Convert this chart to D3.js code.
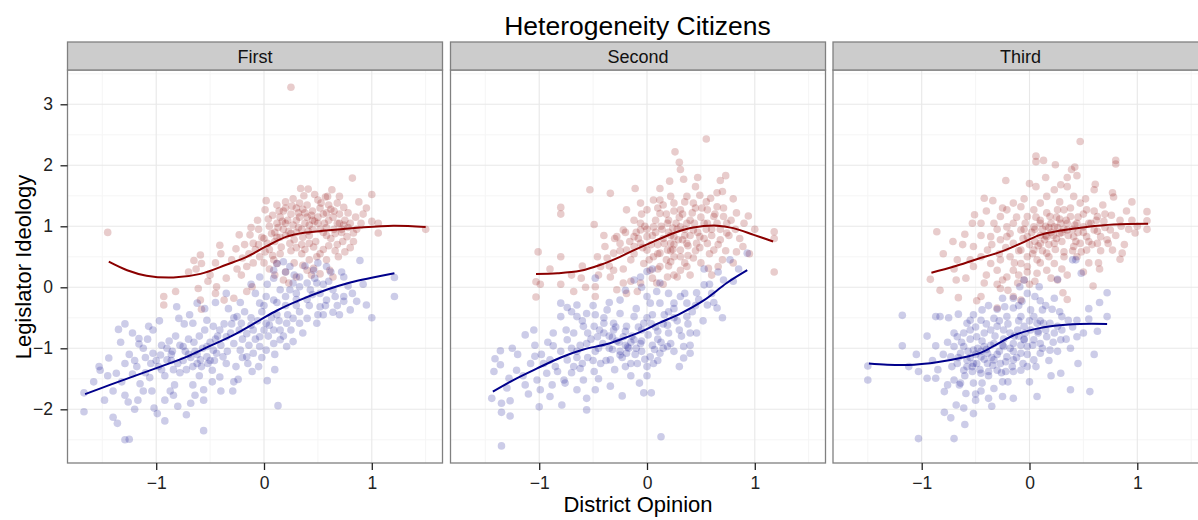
<!DOCTYPE html>
<html>
<head>
<meta charset="utf-8">
<script src="https://cdn.jsdelivr.net/npm/d3@7"></script>
<style>
  html, body { margin: 0; padding: 0; background: #fff; }
  svg { display: block; }
  text { font-family: "Liberation Sans", Arial, Helvetica, sans-serif; }
</style>
</head>
<body>
<svg id="chart" width="1198" height="520"></svg>
<script>
const chartTitle = "Heterogeneity Citizens";
const xTitle = "District Opinion";
const yTitle = "Legislator Ideology";
const panels = ["First", "Second", "Third"];
const xTicks = [-1, 0, 1];
const yTicks = [-2, -1, 0, 1, 2, 3];
const xMinor = [-1.5, -0.5, 0.5, 1.5];
const yMinor = [-2.5, -1.5, -0.5, 0.5, 1.5, 2.5, 3.5];

// ---- Panel "First" ----
const firstHigh = [[0.25,3.28],[0.82,1.79],[-1.45,0.90],[1.50,0.95],[1.00,1.52],[0.34,1.62],[0.41,1.61],[0.37,1.50],[0.63,1.60],[0.59,1.49],[0.70,1.49],[0.02,1.42],[0.12,1.35],[0.33,1.38],[0.50,1.43],[0.74,1.31],[0.01,1.27],[1.00,1.08],[1.06,1.05],[1.06,0.89],[0.83,0.89],[0.83,0.75],[0.74,1.02],[0.77,0.83],[0.75,0.58],[0.69,0.50],[-0.41,0.69],[-0.23,0.86],[-0.18,0.70],[-0.10,0.72],[-0.13,0.86],[-0.26,0.63],[-0.59,0.53],[-0.65,0.44],[-0.58,0.39],[-0.63,0.30],[-0.82,-0.07],[-0.93,-0.15],[-0.93,-0.29],[-0.61,-0.02],[-0.59,-0.21],[-0.58,-0.36],[-0.44,0.01],[-0.37,-0.21],[-0.45,-0.10],[-0.28,-0.18],[-0.21,0.20],[-0.16,0.34],[-0.10,0.40],[-0.04,0.50],[0.01,0.58],[0.09,0.45],[0.12,0.39],[0.23,0.07],[0.30,0.17],[0.40,0.28],[0.46,0.31],[0.49,0.50],[0.61,0.28],[0.64,0.17],[-0.11,0.01],[-0.16,-0.07],[0.15,1.15],[0.20,1.05],[0.25,1.20],[0.30,1.10],[0.35,0.95],[0.40,1.15],[0.45,1.25],[0.50,1.05],[0.55,1.20],[0.60,1.10],[0.65,0.95],[0.70,1.20],[0.75,1.10],[0.10,0.90],[0.05,1.00],[-0.05,0.95],[0.00,0.80],[0.10,0.75],[0.20,0.85],[0.28,0.78],[0.35,0.70],[0.42,0.85],[0.48,0.75],[0.55,0.90],[0.62,0.80],[0.68,0.70],[0.72,0.90],[0.30,1.30],[0.40,1.35],[0.52,1.30],[0.60,1.35],[0.20,1.30],[0.08,1.18],[0.18,0.95],[0.38,1.05],[0.45,0.95],[0.58,0.98],[0.78,0.98],[0.85,1.15],[0.25,0.60],[0.15,0.55],[0.05,0.62],[-0.05,0.70],[0.35,0.55],[0.55,0.62],[0.42,0.45],[0.20,0.25],[0.05,0.30],[-0.30,0.45],[-0.45,0.40],[-0.35,0.15],[-0.50,0.20],[0.30,0.90],[0.50,1.15],[0.12,1.05],[0.65,1.25],[0.88,1.40],[0.92,1.20],[0.22,1.10],[0.42,1.02],[0.32,1.22],[0.58,1.22],[0.15,0.82],[0.68,1.05],[0.18,1.25],[0.26,1.33],[0.36,1.28],[0.44,1.18],[0.53,1.38],[0.62,1.28],[0.68,1.38],[0.78,1.22],[0.80,1.05],[0.72,0.95],[0.66,0.88],[0.58,0.85],[0.52,0.95],[0.47,1.08],[0.41,0.92],[0.36,0.82],[0.32,0.98],[0.27,1.02],[0.23,0.92],[0.17,1.08],[0.13,0.98],[0.07,0.88],[0.03,0.72],[-0.02,0.82],[-0.08,0.62],[-0.14,0.55],[-0.20,0.48],[0.00,0.40],[0.08,0.52],[0.16,0.66],[0.24,0.72],[0.30,0.65],[0.38,0.62],[0.46,0.66],[0.52,0.55],[0.60,0.68],[0.66,0.60],[0.73,0.75],[0.80,0.65],[0.86,0.95],[0.90,1.05],[0.95,1.30],[0.57,1.48],[0.47,1.52],[0.27,1.45],[0.14,1.25],[0.04,1.12],[-0.06,1.10],[-0.12,0.98],[0.10,0.20],[0.18,0.12],[0.28,0.40],[0.36,0.36],[0.44,0.20],[0.52,0.22],[0.58,0.45],[-0.25,0.30],[-0.40,0.55],[-0.52,0.10],[-0.70,0.25],[0.33,1.15],[0.45,1.10],[0.56,1.05],[0.64,1.15],[0.38,1.22],[0.25,0.88],[0.12,0.82],[0.42,0.72],[0.70,1.05],[0.20,1.40]];
const firstLow = [[-1.67,-1.73],[-1.67,-2.04],[-1.53,-1.30],[-1.52,-1.36],[-1.44,-1.16],[-1.40,-1.70],[-1.40,-2.13],[-1.36,-2.23],[-1.29,-2.50],[-1.25,-2.49],[-1.35,-0.69],[-1.29,-0.60],[-1.16,-0.84],[-1.16,-0.93],[-1.07,-0.64],[-1.03,-0.70],[-1.37,-1.41],[-1.29,-1.25],[-1.29,-1.77],[-1.26,-1.88],[-1.17,-1.85],[-1.15,-1.58],[-1.06,-1.48],[-1.04,-1.70],[-1.02,-1.98],[-0.99,-2.07],[-0.92,-2.19],[-0.72,-2.09],[-0.56,-2.35],[-0.56,-1.68],[-0.56,-1.85],[-0.66,-1.60],[-0.64,-1.77],[-0.83,-1.60],[-0.84,-1.77],[-0.92,-1.85],[-0.87,-1.70],[-0.29,-1.70],[0.03,-1.53],[-0.11,-1.38],[0.13,-1.94],[-0.24,-1.51],[-0.28,-1.55],[-1.03,-1.08],[-0.96,-1.11],[-1.05,-1.25],[-0.90,-1.19],[-0.75,-0.97],[-0.73,-1.05],[-0.72,-1.35],[-0.62,-1.25],[-0.59,-1.19],[-0.58,-1.30],[-0.53,-1.14],[-0.53,-0.97],[-0.47,-1.03],[-0.44,-1.08],[-0.38,-1.14],[-0.35,-1.25],[-0.48,-1.36],[-0.41,-1.47],[-0.98,-1.30],[-1.10,-1.15],[-0.85,-1.05],[-0.80,-1.25],[-0.68,-1.15],[-0.65,-0.90],[-0.95,-0.95],[-1.12,-1.00],[-0.88,-0.88],[-0.78,-1.40],[-0.60,-1.45],[-1.20,-1.20],[-1.22,-1.42],[-0.92,-1.45],[-0.25,-0.48],[-0.21,-0.59],[-0.16,-0.76],[-0.10,-0.70],[-0.04,-0.81],[-0.04,-0.97],[0.02,-1.03],[0.09,-0.92],[0.15,-0.86],[0.21,-0.97],[0.27,-0.89],[-0.28,-0.92],[-0.22,-1.03],[-0.10,-1.08],[-0.16,-1.14],[-0.35,-0.81],[-0.41,-0.70],[-0.47,-0.64],[-0.53,-0.54],[-0.66,-0.59],[-0.69,-0.45],[-0.62,-0.26],[-0.81,-0.32],[-0.79,-0.51],[-0.30,-0.60],[-0.45,-0.85],[-0.12,-0.50],[0.05,-0.62],[-0.02,-0.40],[-0.33,-0.35],[-0.04,-0.26],[0.02,-0.15],[0.09,-0.21],[0.15,-0.04],[0.24,-0.04],[0.27,0.07],[0.33,0.01],[0.40,0.07],[0.43,-0.04],[0.49,0.07],[0.52,-0.10],[0.58,-0.21],[0.64,-0.04],[0.74,0.17],[0.72,0.25],[0.74,-0.15],[0.74,-0.23],[0.89,0.44],[0.86,-0.23],[0.95,-0.29],[1.21,0.16],[1.21,-0.15],[0.80,-0.37],[0.64,-0.41],[0.52,-0.32],[0.49,-0.59],[0.40,-0.51],[0.33,-0.59],[0.27,-0.51],[0.21,-0.59],[0.15,-0.70],[0.09,-0.70],[0.02,-0.59],[-0.04,0.17],[0.09,0.15],[0.33,0.17],[0.46,0.28],[0.58,0.34],[0.09,0.28],[0.18,0.42],[0.24,0.34],[0.12,0.39],[0.40,-0.20],[0.30,-0.30],[0.20,-0.30],[0.60,0.10],[0.68,-0.30],[0.55,-0.45],[0.12,-0.45],[-0.08,-0.10],[-0.86,-1.20],[-0.70,-1.10],[-0.50,-1.20],[-0.20,-0.85],[0.00,-0.70],[0.30,-0.20],[-1.45,-1.45],[-1.32,-1.55],[-1.25,-1.10],[-1.18,-1.30],[-1.10,-1.40],[-1.08,-0.85],[-1.00,-1.20],[-0.95,-1.35],[-0.90,-1.00],[-0.86,-1.10],[-0.82,-0.80],[-0.78,-0.95],[-0.75,-1.20],[-0.70,-0.85],[-0.66,-1.30],[-0.64,-1.05],[-0.60,-0.80],[-0.57,-1.00],[-0.55,-0.70],[-0.52,-1.25],[-0.50,-0.90],[-0.46,-1.20],[-0.43,-0.80],[-0.40,-0.95],[-0.37,-0.60],[-0.34,-1.05],[-0.31,-0.75],[-0.28,-0.50],[-0.26,-1.30],[-0.23,-0.70],[-0.20,-1.15],[-0.18,-0.40],[-0.14,-0.95],[-0.12,-0.62],[-0.08,-0.85],[-0.06,-0.55],[-0.02,-1.15],[0.00,-0.30],[0.04,-0.80],[0.07,-0.50],[0.10,-1.10],[0.12,-0.25],[0.14,-0.55],[0.18,-0.80],[0.20,-0.15],[0.22,-0.45],[0.25,-0.70],[0.28,0.20],[0.30,-0.10],[0.33,-0.40],[0.36,-0.75],[0.38,0.35],[0.42,-0.30],[0.45,-0.12],[0.47,0.15],[0.50,-0.45],[0.55,0.05],[0.57,-0.30],[0.62,0.25],[0.66,-0.15],[0.70,-0.45],[0.78,0.02],[0.82,-0.10],[0.92,0.05],[1.00,-0.50],[-1.58,-1.55],[-1.48,-1.85],[-1.20,-2.00],[-1.12,-1.70],[-0.80,-1.95],[-0.68,-1.90],[-0.48,-1.55],[-0.40,-1.70],[-0.15,-1.25],[-0.05,-1.30],[0.10,-1.35],[-1.33,-0.90],[-1.22,-0.75],[-0.97,-0.55],[-0.74,-0.60],[-0.55,-0.35],[-0.45,-0.25],[-0.35,-0.10],[-0.22,-0.25],[-0.12,0.05],[0.03,0.05],[0.20,0.25],[0.50,0.40],[-0.62,-1.10],[-0.84,-1.35]];
const firstHighFit = [[-1.44,0.42],[-1.27,0.28],[-1.09,0.19],[-0.84,0.16],[-0.59,0.22],[-0.35,0.37],[-0.16,0.50],[0.02,0.67],[0.21,0.83],[0.36,0.89],[0.58,0.93],[0.89,0.98],[1.20,1.01],[1.50,0.99]];
const firstLowFit = [[-1.66,-1.75],[-1.43,-1.60],[-1.18,-1.44],[-0.96,-1.30],[-0.72,-1.14],[-0.50,-0.96],[-0.28,-0.78],[-0.04,-0.54],[0.12,-0.38],[0.33,-0.21],[0.58,-0.04],[0.80,0.08],[1.01,0.16],[1.21,0.23]];

// ---- Panel "Second" ----
const secondHigh = [[0.55,2.43],[0.26,2.22],[0.30,2.05],[0.31,1.93],[0.21,1.74],[0.34,1.77],[0.47,1.80],[0.73,1.83],[0.68,1.75],[0.70,1.57],[0.80,1.45],[-0.53,1.60],[-0.34,1.54],[-0.11,1.62],[-0.80,1.31],[-0.80,1.20],[-0.49,1.03],[-1.01,0.58],[-0.80,0.50],[-1.03,0.09],[-0.99,0.05],[-1.03,-0.16],[-0.80,0.05],[-0.68,-0.07],[-0.57,0.00],[-0.48,0.01],[-0.48,-0.15],[-0.61,0.15],[1.18,0.91],[1.18,0.80],[1.18,0.25],[0.94,1.17],[0.83,1.22],[0.89,0.67],[0.83,0.58],[0.66,0.34],[0.57,0.31],[0.43,0.48],[0.37,0.34],[0.31,0.28],[0.28,0.17],[0.19,0.17],[0.09,0.07],[-0.06,0.07],[-0.09,-0.07],[-0.19,-0.10],[-0.28,-0.04],[-0.34,0.17],[-0.22,0.07],[-0.31,0.28],[-0.39,0.67],[-0.28,0.83],[-0.22,0.94],[-0.12,0.83],[-0.06,1.05],[0.00,1.27],[0.06,1.43],[0.12,1.43],[0.22,1.49],[0.25,1.38],[0.31,1.27],[0.37,1.49],[0.43,1.38],[0.49,1.51],[0.59,1.46],[0.65,1.32],[0.71,1.16],[0.74,1.05],[0.74,0.89],[0.68,0.78],[0.62,0.61],[0.56,0.72],[0.49,0.83],[0.43,0.94],[0.37,1.05],[0.31,0.99],[0.25,0.83],[0.22,0.72],[0.19,0.61],[0.12,0.56],[0.06,0.50],[0.00,0.61],[-0.06,0.72],[-0.12,0.67],[-0.19,0.61],[-0.25,0.72],[-0.31,0.56],[-0.37,0.48],[-0.43,0.34],[-0.46,0.50],[-0.03,0.39],[0.03,0.28],[0.12,0.34],[0.22,0.42],[0.25,0.50],[0.31,0.61],[0.37,0.72],[0.46,0.72],[0.53,1.05],[0.56,1.27],[0.62,1.16],[0.19,1.05],[0.12,1.21],[0.06,0.99],[0.00,0.83],[-0.06,0.94],[-0.12,1.10],[-0.19,1.27],[-0.06,1.38],[0.15,0.80],[0.20,0.90],[0.28,0.95],[0.10,0.70],[0.05,0.85],[0.35,0.85],[0.40,1.10],[0.50,1.15],[0.55,0.95],[0.30,1.15],[0.18,1.20],[0.08,1.10],[-0.02,1.00],[-0.10,0.90],[0.25,0.70],[0.45,0.60],[0.60,0.95],[0.65,1.05],[0.22,0.60],[-0.15,0.45],[0.10,0.30],[0.35,0.40],[0.15,1.35],[0.45,1.30],[0.24,0.97],[0.33,0.78],[0.14,0.95],[-0.30,0.80],[-0.25,0.60],[-0.20,0.90],[-0.16,0.75],[-0.12,0.55],[-0.08,0.80],[-0.04,0.65],[0.00,0.95],[0.02,0.45],[0.04,0.70],[0.08,0.90],[0.10,0.55],[0.13,1.00],[0.16,0.72],[0.18,0.45],[0.20,1.10],[0.22,0.85],[0.24,0.62],[0.27,1.05],[0.29,0.78],[0.31,0.50],[0.33,1.20],[0.35,0.95],[0.38,0.68],[0.40,0.85],[0.42,1.22],[0.44,1.05],[0.47,0.90],[0.49,0.65],[0.51,1.30],[0.53,0.80],[0.56,1.05],[0.58,0.55],[0.60,0.85],[0.63,1.20],[0.66,0.70],[0.68,0.95],[0.71,1.30],[0.73,0.60],[0.76,0.85],[0.78,1.10],[0.82,0.95],[0.86,0.80],[0.90,1.05],[-0.40,0.85],[-0.45,0.20],[-0.35,0.35],[-0.22,0.30],[-0.15,0.10],[0.05,0.15],[0.15,0.05],[0.25,0.20],[0.40,0.20],[0.50,0.40],[0.60,0.20],[0.70,0.45],[-0.05,1.20],[0.10,1.30],[0.25,1.25],[0.35,1.40],[0.55,1.40],[0.65,1.55],[0.45,1.65],[0.12,1.62],[0.38,0.52],[0.20,0.35],[-0.60,0.35],[-0.70,0.20],[-0.90,0.30],[0.80,0.40],[1.00,0.95],[0.95,0.55]];
const secondLow = [[-1.35,-2.60],[0.13,-2.45],[-1.44,-1.82],[-1.35,-1.90],[-1.35,-2.05],[-1.27,-2.11],[-1.27,-1.86],[-1.42,-1.38],[-1.41,-1.17],[-1.36,-1.04],[-1.36,-1.27],[-1.28,-1.49],[-1.13,-0.78],[-1.13,-1.60],[-1.00,-1.96],[-0.99,-1.68],[-0.90,-1.79],[-0.79,-1.93],[-0.56,-2.01],[-0.56,-1.82],[-0.65,-1.68],[-0.48,-1.68],[-0.23,-1.78],[-0.03,-1.73],[0.04,-1.73],[-0.07,-1.57],[-0.34,-1.62],[-0.76,-1.57],[-1.04,-0.95],[-1.04,-1.13],[-0.87,-0.96],[-0.87,-0.75],[-0.80,-0.26],[-0.74,-0.33],[-0.80,-0.48],[-0.65,-0.29],[-0.65,-0.48],[-0.56,-0.43],[-0.48,-0.45],[-0.48,0.15],[-0.37,-0.37],[-0.25,-0.43],[-0.25,-0.21],[-0.12,0.12],[-0.06,0.17],[0.00,0.26],[0.12,0.07],[0.09,-0.07],[0.00,-0.15],[0.03,-0.26],[0.12,-0.26],[0.25,-0.26],[0.31,-0.15],[0.37,-0.26],[0.46,-0.09],[0.53,0.04],[0.53,0.30],[0.56,-0.29],[0.65,-0.34],[0.71,0.12],[0.77,0.45],[0.93,0.56],[0.37,-0.48],[0.40,-0.75],[0.46,-0.75],[0.34,-0.97],[0.34,-1.16],[0.40,-1.08],[0.19,-0.97],[0.12,-1.08],[0.03,-1.14],[0.06,-1.25],[0.00,-1.30],[-0.09,-1.25],[-0.15,-1.25],[-0.19,-1.08],[-0.25,-1.11],[-0.34,-1.19],[-0.43,-1.25],[-0.49,-1.38],[-0.59,-1.52],[-0.62,-1.33],[-0.68,-1.30],[-0.74,-1.19],[-0.65,-1.05],[-0.56,-0.92],[-0.46,-0.81],[-0.40,-0.75],[-0.31,-0.70],[-0.22,-0.81],[-0.12,-0.86],[-0.06,-0.92],[-0.03,-0.59],[-0.12,-0.48],[-0.19,-0.64],[-0.31,-0.59],[-0.40,-0.59],[-0.49,-0.64],[-0.59,-0.64],[-0.68,-0.75],[-0.74,-0.86],[-0.90,-1.19],[-0.96,-1.25],[-0.93,-1.41],[-0.83,-1.38],[-0.77,-1.52],[-1.02,-1.52],[-1.21,-1.36],[-0.28,-0.88],[-0.20,-0.95],[-0.10,-1.00],[-0.15,-0.90],[-0.05,-1.05],[0.05,-0.95],[-0.35,-1.00],[-0.25,-1.05],[0.10,-0.85],[-0.45,-1.00],[0.20,-0.75],[0.15,-0.60],[0.25,-0.50],[0.05,-0.45],[-0.05,-0.70],[0.30,-0.70],[-0.55,-1.15],[-0.62,-0.95],[0.45,-0.30],[0.20,-0.10],[0.60,-0.10],[0.70,-0.50],[-0.50,-1.20],[-0.32,-0.82],[-0.18,-0.98],[0.08,-0.65],[-0.52,-0.85],[-0.48,-1.05],[-0.44,-0.70],[-0.41,-0.92],[-0.38,-1.20],[-0.35,-0.80],[-0.32,-1.02],[-0.29,-0.65],[-0.26,-0.90],[-0.23,-1.15],[-0.20,-0.72],[-0.17,-1.00],[-0.14,-0.80],[-0.11,-1.10],[-0.08,-0.65],[-0.05,-0.88],[-0.02,-1.18],[0.01,-0.78],[0.04,-0.60],[0.07,-1.02],[0.10,-0.72],[0.13,-0.90],[0.16,-0.45],[0.19,-0.62],[0.22,-0.92],[0.25,-0.35],[0.28,-0.55],[0.32,-0.80],[0.35,-0.10],[0.38,-0.60],[0.42,-0.40],[0.48,-0.20],[0.52,-0.55],[0.58,0.05],[0.62,-0.25],[0.66,0.25],[0.80,0.10],[0.85,0.30],[-0.70,-1.00],[-0.75,-0.70],[-0.80,-1.05],[-0.85,-1.30],[-0.92,-0.90],[-0.98,-1.10],[-1.08,-1.25],[-1.15,-1.45],[-1.20,-1.10],[-1.30,-1.65],[-1.10,-1.75],[-0.88,-1.60],[-0.70,-1.40],[-0.60,-1.25],[-0.45,-1.50],[-0.30,-1.35],[-0.15,-1.45],[0.00,-1.45],[0.10,-1.20],[0.25,-1.05],[0.30,-1.30],[-0.60,-0.55],[-0.70,-0.40],[-0.50,-0.30],[-0.35,-0.25],[-0.20,-0.05],[-0.05,0.00],[0.05,0.30],[0.20,-0.40],[-0.10,-0.35],[0.00,-0.50],[-0.40,-0.50],[-0.55,-0.75],[-0.65,-1.15],[-0.20,-1.30],[0.15,-1.00],[0.40,-0.95],[-1.25,-1.00],[-1.05,-0.70]];
const secondHighFit = [[-1.03,0.22],[-0.83,0.23],[-0.62,0.27],[-0.43,0.37],[-0.25,0.50],[-0.12,0.61],[0.06,0.75],[0.25,0.89],[0.43,0.98],[0.65,1.01],[0.80,0.97],[0.99,0.86],[1.17,0.75]];
const secondLowFit = [[-1.43,-1.71],[-1.24,-1.52],[-1.02,-1.33],[-0.80,-1.15],[-0.59,-1.02],[-0.37,-0.93],[-0.22,-0.84],[-0.06,-0.73],[0.12,-0.58],[0.31,-0.43],[0.53,-0.21],[0.74,0.07],[0.93,0.28]];

// ---- Panel "Third" ----
const thirdHigh = [[0.47,2.39],[0.06,2.15],[0.06,2.06],[0.13,2.08],[0.24,2.01],[0.39,1.93],[0.42,1.97],[0.44,1.83],[0.80,2.08],[0.80,2.02],[0.61,1.69],[-0.22,1.75],[0.00,1.70],[0.06,1.65],[-0.42,1.46],[-0.34,1.42],[-0.51,1.19],[-0.53,1.05],[-0.45,1.05],[-0.60,0.87],[-0.86,0.91],[-0.71,0.75],[-0.67,0.45],[-0.92,0.13],[-0.83,-0.05],[-0.68,0.12],[-0.66,-0.17],[-0.59,0.15],[-0.52,0.34],[-0.49,-0.22],[-0.45,-0.15],[-0.42,0.07],[-0.30,-0.34],[-0.27,-0.02],[-0.25,0.12],[-0.15,-0.15],[-0.08,-0.21],[-0.11,0.07],[-0.05,0.12],[0.31,-0.09],[0.35,-0.20],[0.26,0.12],[0.59,0.02],[1.09,1.24],[1.09,1.09],[1.09,0.95],[0.98,0.89],[0.86,0.56],[0.84,0.46],[0.77,0.61],[0.78,1.48],[0.77,1.55],[0.64,0.40],[0.55,0.40],[0.44,0.50],[0.53,0.61],[0.63,0.72],[0.72,0.78],[0.75,0.94],[0.69,1.08],[0.63,1.16],[0.53,1.27],[0.47,1.38],[0.41,1.49],[0.35,1.65],[0.29,1.68],[0.23,1.60],[0.16,1.49],[0.10,1.38],[0.04,1.27],[-0.02,1.16],[-0.08,1.32],[-0.15,1.38],[-0.21,1.27],[-0.27,1.16],[-0.33,1.05],[-0.36,0.83],[-0.39,0.61],[-0.36,0.39],[-0.30,0.28],[-0.21,0.17],[-0.15,0.28],[-0.08,0.39],[-0.02,0.50],[0.04,0.61],[0.10,0.72],[0.16,0.83],[0.23,0.99],[0.29,1.05],[0.35,0.94],[0.41,0.83],[0.47,0.72],[0.53,0.83],[0.60,0.94],[0.66,0.83],[0.23,0.72],[0.16,0.56],[0.07,0.45],[-0.02,0.34],[-0.08,0.61],[-0.15,0.72],[-0.21,0.83],[-0.27,0.78],[-0.21,0.99],[-0.15,1.05],[-0.08,0.94],[-0.02,0.83],[0.04,0.99],[0.10,1.10],[0.19,1.16],[0.26,1.27],[0.32,1.27],[0.38,1.16],[0.44,1.05],[0.50,0.99],[0.57,1.05],[0.41,0.67],[0.32,0.50],[0.23,0.39],[0.16,0.28],[0.07,0.23],[-0.18,0.50],[-0.27,0.45],[-0.45,0.50],[-0.52,0.67],[0.20,0.90],[0.25,0.80],[0.30,0.90],[0.15,1.00],[0.10,0.85],[0.05,0.75],[0.35,1.05],[0.28,1.12],[0.18,0.70],[0.12,0.60],[0.00,0.70],[-0.05,0.95],[0.45,0.90],[0.55,0.75],[0.62,1.10],[0.70,1.20],[0.85,1.00],[0.90,1.25],[0.95,1.10],[0.50,1.20],[0.40,0.60],[-0.10,0.20],[0.00,0.05],[0.30,0.30],[-0.35,0.70],[-0.30,0.95],[-0.28,0.55],[-0.25,1.30],[-0.22,0.65],[-0.18,0.88],[-0.14,0.40],[-0.12,1.15],[-0.10,0.60],[-0.06,0.80],[-0.04,1.05],[-0.02,0.25],[0.02,0.90],[0.03,0.55],[0.06,1.15],[0.08,0.68],[0.10,0.40],[0.12,0.95],[0.14,0.78],[0.16,1.22],[0.18,0.50],[0.20,1.05],[0.22,0.85],[0.24,0.62],[0.26,0.98],[0.28,1.40],[0.30,0.75],[0.32,0.58],[0.34,1.10],[0.36,0.85],[0.38,1.30],[0.40,0.95],[0.43,0.75],[0.45,1.15],[0.48,0.58],[0.50,0.90],[0.52,1.45],[0.55,1.05],[0.58,0.70],[0.60,1.25],[0.63,0.92],[0.66,0.60],[0.68,1.35],[0.70,0.98],[0.73,0.72],[0.76,1.18],[0.80,0.85],[0.84,1.10],[0.88,0.70],[0.92,0.95],[0.95,1.40],[1.00,1.00],[0.60,1.60],[0.35,1.80],[0.15,1.80],[-0.05,1.45],[-0.40,1.25],[-0.45,0.85],[-0.55,0.45],[-0.70,0.30],[-0.80,0.55],[-0.62,0.70],[-0.40,0.20],[-0.30,0.05],[-0.20,-0.05],[0.05,0.10],[0.20,0.15],[0.35,0.20],[0.50,0.25],[0.65,0.30],[0.18,0.98],[0.28,0.88],[0.10,1.05],[0.25,1.15],[0.42,1.02],[0.05,0.95],[0.15,0.85],[0.32,0.95]];
const thirdLow = [[-1.03,-2.48],[-0.70,-2.48],[-1.50,-1.29],[-1.50,-1.52],[-1.18,-0.46],[-1.18,-0.96],[-1.03,-1.38],[-0.95,-1.49],[-0.87,-1.49],[-0.87,-0.48],[-0.83,-0.48],[-0.87,-0.96],[-0.79,-2.05],[-0.73,-2.14],[-0.68,-1.93],[-0.61,-1.98],[-0.52,-2.07],[-0.66,-0.44],[-0.58,-0.59],[-0.44,-0.37],[-0.30,-0.36],[-0.23,-0.32],[-0.15,-0.34],[-0.15,-0.18],[-0.09,0.01],[-0.05,0.12],[0.09,0.01],[0.10,-0.22],[0.23,-0.18],[0.21,-0.36],[0.36,-0.54],[0.44,-0.54],[0.44,-0.81],[0.38,-1.00],[0.29,-1.41],[0.38,-1.68],[0.56,-1.71],[0.72,-0.09],[0.72,-0.48],[0.63,-0.72],[0.55,-0.52],[0.48,0.23],[0.43,0.45],[0.40,0.45],[0.26,0.13],[0.07,-1.79],[-0.15,-1.82],[-0.25,-1.79],[-0.38,-1.82],[-0.50,-1.75],[-0.59,-1.74],[-0.64,-1.57],[-0.52,-1.57],[-0.44,-1.57],[-0.33,-1.66],[-0.25,-1.55],[-0.79,-1.71],[-0.76,-1.60],[-0.70,-1.52],[-0.70,-0.97],[-0.64,-1.08],[-0.58,-1.19],[-0.52,-1.25],[-0.45,-1.14],[-0.39,-1.08],[-0.33,-1.19],[-0.27,-1.25],[-0.21,-1.14],[-0.15,-1.19],[-0.08,-1.08],[-0.02,-0.97],[0.04,-0.86],[0.10,-0.92],[0.16,-0.81],[0.23,-0.75],[0.29,-0.86],[0.19,-1.03],[0.10,-1.08],[0.04,-1.19],[-0.02,-1.30],[-0.08,-1.36],[-0.15,-1.38],[-0.22,-1.38],[-0.30,-1.36],[-0.38,-1.38],[-0.45,-1.41],[-0.53,-1.38],[-0.61,-1.36],[-0.67,-1.25],[-0.73,-1.14],[-0.67,-0.81],[-0.61,-0.75],[-0.55,-0.70],[-0.49,-0.81],[-0.42,-0.75],[-0.36,-0.70],[-0.30,-0.64],[-0.24,-0.70],[-0.18,-0.75],[-0.11,-0.70],[-0.05,-0.64],[0.01,-0.70],[0.07,-0.59],[-0.08,-0.48],[-0.21,-0.48],[-0.33,-0.51],[-0.45,-0.54],[-0.55,-0.54],[-0.15,-0.92],[-0.24,-0.97],[-0.33,-0.92],[-0.42,-0.97],[-0.52,-1.03],[-0.61,-0.97],[-0.39,-1.25],[-0.49,-1.25],[-0.05,-0.86],[0.04,-0.48],[0.13,-0.59],[0.19,-0.59],[0.26,-0.64],[0.30,-0.48],[0.12,-0.37],[0.01,-0.37],[-0.07,-0.23],[-0.02,-0.10],[-0.50,-1.10],[-0.40,-1.02],[-0.58,-1.30],[-0.28,-1.05],[-0.10,-0.80],[0.08,-0.72],[-0.80,-1.10],[-0.76,-0.90],[-0.72,-1.30],[-0.70,-0.75],[-0.66,-1.15],[-0.63,-0.90],[-0.60,-1.45],[-0.57,-1.05],[-0.55,-0.85],[-0.53,-1.30],[-0.50,-0.65],[-0.48,-1.00],[-0.46,-1.35],[-0.44,-0.88],[-0.42,-1.18],[-0.40,-0.60],[-0.38,-1.45],[-0.36,-0.95],[-0.34,-1.28],[-0.32,-0.80],[-0.30,-1.10],[-0.28,-0.55],[-0.26,-1.40],[-0.24,-0.85],[-0.22,-1.22],[-0.20,-0.60],[-0.18,-1.00],[-0.16,-1.30],[-0.14,-0.80],[-0.12,-1.15],[-0.10,-0.55],[-0.08,-0.95],[-0.06,-1.25],[-0.04,-0.75],[-0.02,-1.10],[0.00,-0.55],[0.03,-0.95],[0.06,-1.30],[0.08,-0.75],[0.12,-1.00],[0.15,-0.70],[0.18,-1.20],[0.22,-0.90],[0.26,-1.05],[0.30,-0.70],[0.34,-0.85],[0.40,-0.65],[0.50,-0.75],[0.55,-0.35],[0.65,-0.25],[0.60,-1.10],[0.45,-1.25],[-0.90,-1.20],[-0.95,-0.80],[-1.05,-1.10],[-1.12,-1.30],[-0.85,-1.35],[-0.65,-1.60],[-0.45,-1.70],[-0.20,-1.55],[0.00,-1.55],[0.20,-1.45],[-0.50,-1.85],[-0.35,-1.95],[-0.60,-2.25],[-0.75,-0.50],[-0.52,-0.45],[-0.38,-0.30],[-0.25,-0.18],[-0.10,-0.30],[0.05,-0.15],[0.15,-0.30],[-0.45,-1.05],[-0.25,-0.95],[-0.05,-0.85],[-0.35,-1.15],[-0.55,-1.15],[-0.15,-1.05],[0.10,-0.55],[0.28,-0.40]];
const thirdHighFit = [[-0.91,0.24],[-0.70,0.34],[-0.49,0.46],[-0.27,0.58],[-0.08,0.72],[0.10,0.86],[0.29,0.93],[0.53,0.99],[0.78,1.03],[1.10,1.04]];
const thirdLowFit = [[-1.49,-1.25],[-1.32,-1.27],[-1.07,-1.27],[-0.86,-1.23],[-0.64,-1.16],[-0.45,-1.07],[-0.30,-0.93],[-0.15,-0.79],[0.04,-0.69],[0.23,-0.63],[0.47,-0.60],[0.72,-0.60]];

const panelData = [
  {name: panels[0], high: firstHigh, low: firstLow, highFit: firstHighFit, lowFit: firstLowFit},
  {name: panels[1], high: secondHigh, low: secondLow, highFit: secondHighFit, lowFit: secondLowFit},
  {name: panels[2], high: thirdHigh, low: thirdLow, highFit: thirdHighFit, lowFit: thirdLowFit}
];

// ---- Layout ----
const panelLefts = [67.5, 450.5, 833];
const panelW = 375;
const plotTop = 70, plotBottom = 463;
const stripTop = 42;
const redFill = "#8B0000", blueFill = "#00008B";
const ptAlpha = 0.2, ptR = 3.8;
const fontFam = '"Liberation Sans", Arial, Helvetica, sans-serif';
const fmt = d => d < 0 ? "\u2212" + Math.abs(d) : String(d);

const svg = d3.select("#chart");
const y = d3.scaleLinear().domain([-2.88, 3.562]).range([plotBottom, plotTop]);

svg.append("text")
  .attr("x", 637.5).attr("y", 35)
  .attr("text-anchor", "middle")
  .attr("font-size", 26.5).attr("fill", "#000")
  .text(chartTitle);

panelData.forEach((p, i) => {
  const left = panelLefts[i];
  const x = d3.scaleLinear().domain([-1.823, 1.656]).range([left, left + panelW]);
  const g = svg.append("g");
  const clipId = "clip" + i;
  g.append("clipPath").attr("id", clipId)
    .append("rect").attr("x", left).attr("y", plotTop).attr("width", panelW).attr("height", plotBottom - plotTop);

  g.append("rect").attr("x", left).attr("y", plotTop).attr("width", panelW).attr("height", plotBottom - plotTop).attr("fill", "#fff");

  const grid = g.append("g").attr("clip-path", `url(#${clipId})`);
  grid.selectAll(".xminor").data(xMinor).join("line")
    .attr("x1", d => x(d)).attr("x2", d => x(d)).attr("y1", plotTop).attr("y2", plotBottom)
    .attr("stroke", "#F5F5F5").attr("stroke-width", 1);
  grid.selectAll(".yminor").data(yMinor).join("line")
    .attr("x1", left).attr("x2", left + panelW).attr("y1", d => y(d)).attr("y2", d => y(d))
    .attr("stroke", "#F5F5F5").attr("stroke-width", 1);
  grid.selectAll(".xmajor").data(xTicks).join("line")
    .attr("x1", d => x(d)).attr("x2", d => x(d)).attr("y1", plotTop).attr("y2", plotBottom)
    .attr("stroke", "#E8E8E8").attr("stroke-width", 1.1);
  grid.selectAll(".ymajor").data(yTicks).join("line")
    .attr("x1", left).attr("x2", left + panelW).attr("y1", d => y(d)).attr("y2", d => y(d))
    .attr("stroke", "#E8E8E8").attr("stroke-width", 1.1);

  const pts = g.append("g").attr("clip-path", `url(#${clipId})`);
  const all = p.high.map(d => ({d, c: redFill})).concat(p.low.map(d => ({d, c: blueFill})));
  pts.selectAll("circle").data(all).join("circle")
    .attr("cx", o => x(o.d[0])).attr("cy", o => y(o.d[1])).attr("r", ptR)
    .attr("fill", o => o.c).attr("fill-opacity", ptAlpha);

  const line = d3.line().x(d => x(d[0])).y(d => y(d[1])).curve(d3.curveCatmullRom.alpha(0.5));
  pts.append("path").datum(p.highFit).attr("d", line).attr("fill", "none").attr("stroke", redFill).attr("stroke-width", 2);
  pts.append("path").datum(p.lowFit).attr("d", line).attr("fill", "none").attr("stroke", blueFill).attr("stroke-width", 2);

  g.append("rect").attr("x", left).attr("y", plotTop).attr("width", panelW).attr("height", plotBottom - plotTop)
    .attr("fill", "none").attr("stroke", "#808080").attr("stroke-width", 1.3);

  g.append("rect").attr("x", left).attr("y", stripTop).attr("width", panelW).attr("height", plotTop - stripTop)
    .attr("fill", "#CCCCCC").attr("stroke", "#808080").attr("stroke-width", 1.3);
  g.append("text").attr("x", left + panelW / 2).attr("y", 62.5)
    .attr("text-anchor", "middle").attr("font-size", 18).attr("fill", "#111")
    .text(p.name);

  const xAxis = d3.axisBottom(x).tickValues(xTicks).tickSize(7).tickPadding(6.5).tickFormat(fmt);
  const ax = g.append("g").attr("transform", `translate(0,${plotBottom})`).call(xAxis);
  ax.select(".domain").remove();
  ax.selectAll(".tick line").attr("stroke", "#222").attr("stroke-width", 1.3);
  ax.selectAll(".tick text").attr("font-size", 17.5).attr("fill", "#222").attr("font-family", fontFam);

  if (i === 0) {
    const yAxis = d3.axisLeft(y).tickValues(yTicks).tickSize(7).tickPadding(7.5).tickFormat(fmt);
    const ay = g.append("g").attr("transform", `translate(${left},0)`).call(yAxis);
    ay.select(".domain").remove();
    ay.selectAll(".tick line").attr("stroke", "#222").attr("stroke-width", 1.3);
    ay.selectAll(".tick text").attr("font-size", 17.5).attr("fill", "#222").attr("font-family", fontFam);
  }
});

svg.append("text")
  .attr("x", 638).attr("y", 512)
  .attr("text-anchor", "middle").attr("font-size", 22).attr("fill", "#000")
  .text(xTitle);

svg.append("text")
  .attr("transform", "translate(31,267) rotate(-90)")
  .attr("text-anchor", "middle").attr("font-size", 22).attr("fill", "#000")
  .text(yTitle);
</script>
</body>
</html>
